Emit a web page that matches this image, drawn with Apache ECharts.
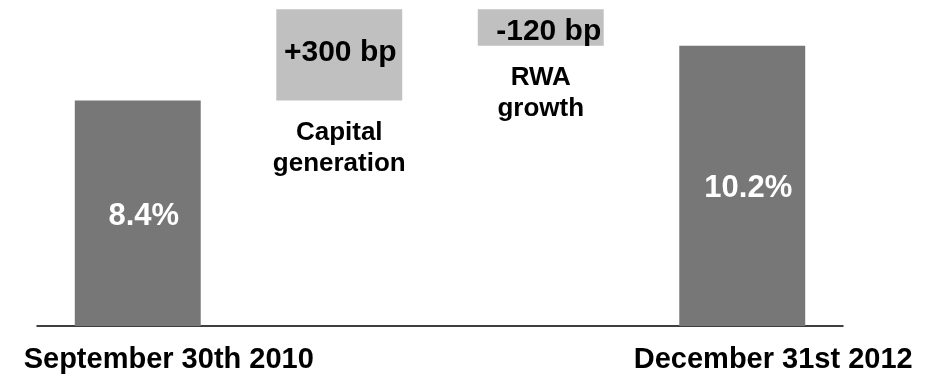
<!DOCTYPE html>
<html>
<head>
<meta charset="utf-8">
<script src="https://cdn.jsdelivr.net/npm/echarts@6/dist/echarts.min.js"></script>
<style>
  html, body { margin: 0; padding: 0; background: #fff; }
  #chart { width: 935px; height: 374px; }
</style>
</head>
<body>
<div id="chart"></div>
<script>
// data
const categories = ['September 30th 2010', 'Capital generation', 'RWA growth', 'December 31st 2012'];
const tickLabels = ['September 30th 2010', '', '', 'December 31st 2012'];
const stepNames = ['', 'Capital\ngeneration', 'RWA\ngrowth', ''];
const totals = [8.4, null, null, 10.2];     // core ratio, %
const changesBp = [null, 300, -120, null];  // basis points

// waterfall: invisible base + visible piece
const base = [];
const piece = [];
let running = 0;
for (let i = 0; i < categories.length; i++) {
  if (totals[i] != null) {
    running = totals[i];
    base.push(0);
    piece.push({
      value: totals[i],
      itemStyle: { color: '#777777' },
      label: { formatter: totals[i].toFixed(1) + '%', color: '#fff', fontSize: 31, offset: [6, 3] }
    });
  } else {
    const ch = changesBp[i] / 100;
    base.push(ch >= 0 ? running : running + ch);
    piece.push({
      value: Math.abs(ch),
      itemStyle: { color: '#C0C0C0' },
      label: {
        formatter: (changesBp[i] > 0 ? '+' : '') + changesBp[i] + ' bp',
        color: '#000', fontSize: 30, offset: ch >= 0 ? [1, -2] : [8, 4]
      }
    });
    running += ch;
  }
}

const font = '"Liberation Sans", Arial, sans-serif';
const chart = echarts.init(document.getElementById('chart'));
chart.setOption({
  animation: false,
  grid: { left: 37, right: 92, top: 0, bottom: 48 },
  xAxis: {
    type: 'category',
    data: categories,
    axisLine: { onZero: false, lineStyle: { color: '#000', width: 1.5 } },
    axisTick: { show: false },
    axisLabel: {
      interval: 0,
      margin: 19,
      formatter: (v, i) => tickLabels[i],
      color: '#000',
      fontFamily: font,
      fontWeight: 'bold',
      fontSize: 29,
      padding: [0, 0, 0, 62]
    }
  },
  yAxis: { type: 'value', min: 1, max: 11.7, show: false },
  series: [
    {
      type: 'bar',
      stack: 'w',
      barWidth: '62.5%',
      data: base,
      itemStyle: { color: 'transparent' },
      label: {
        show: true,
        position: 'insideTop',
        distance: 17,
        formatter: p => stepNames[p.dataIndex],
        color: '#000',
        fontFamily: font,
        fontWeight: 'bold',
        fontSize: 26,
        lineHeight: 31
      },
      silent: true
    },
    {
      type: 'bar',
      stack: 'w',
      data: piece,
      label: { show: true, position: 'inside', fontFamily: font, fontWeight: 'bold' }
    }
  ]
});
</script>
</body>
</html>
